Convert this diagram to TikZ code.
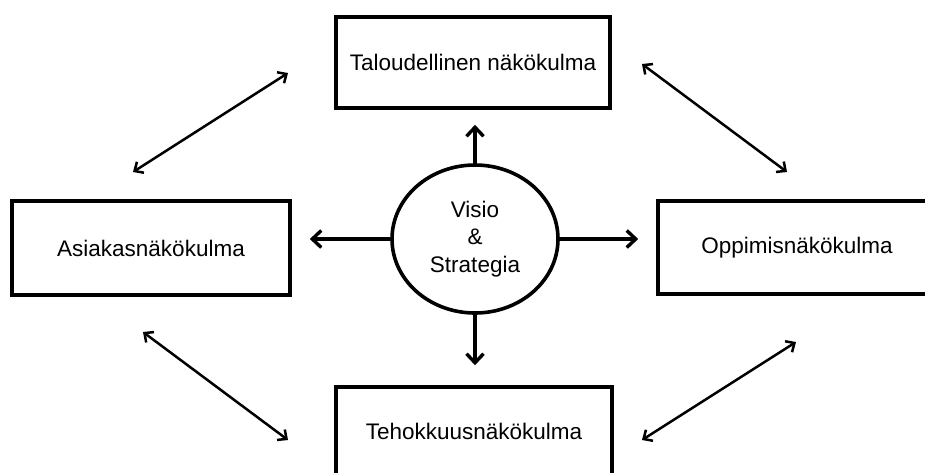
\documentclass[tikz,border=0pt]{standalone}
\usepackage{fontspec}
\setmainfont{Liberation Sans}
\usetikzlibrary{arrows.meta,shapes.geometric}
\begin{document}
\begin{tikzpicture}[x=1pt,y=-1pt,
  every node/.style={font=\fontsize{22.5}{27.5}\selectfont, inner sep=0pt, align=center},
  perspbox/.style={draw=black, line width=3.6pt, fill=white, rectangle},
  hub/.style={draw=black, line width=3.6pt, fill=white, ellipse, minimum width=166pt, minimum height=148pt},
  hubarrow/.style={line width=3.4pt, -{Straight Barb[length=9pt,width=17pt,line width=3.4pt]}},
  linkarrow/.style={line width=2.5pt, {Straight Barb[length=7pt,width=13pt,line width=2.5pt]}-{Straight Barb[length=7pt,width=13pt,line width=2.5pt]}}]
\useasboundingbox (0,0) rectangle (925,472);
\fill[white] (0,0) rectangle (925,472);
\begin{scope}
\clip (0,0) rectangle (925,472);
\node[perspbox, minimum width=274pt, minimum height=91pt] (top) at (473,62.5) {Taloudellinen näkökulma};
\node[perspbox, minimum width=278pt, minimum height=94pt] (left) at (151,248) {Asiakasnäkökulma};
\node[perspbox, minimum width=278pt, minimum height=93pt] (right) at (797,247.5) {Oppimisnäkökulma};
\node[perspbox, minimum width=276pt, minimum height=88pt] (bottom) at (474,431) {Tehokkuusnäkökulma};
\node[hub] (hub) at (475,239) {Visio\\\&\\Strategia};
\end{scope}
\draw[hubarrow, shorten >=15pt] (hub.north) -- (hub.north |- top.south);
\draw[hubarrow, shorten >=18pt] (hub.west) -- (hub.west -| left.east);
\draw[hubarrow, shorten >=18pt] (hub.east) -- (hub.east -| right.west);
\draw[hubarrow, shorten >=20pt] (hub.south) -- (hub.south |- bottom.north);
\coordinate (nwA) at (288,73);
\coordinate (nwB) at (133,172);
\coordinate (neA) at (642,64);
\coordinate (neB) at (787,172);
\coordinate (swA) at (143,332);
\coordinate (swB) at (288,440);
\coordinate (seA) at (642,440);
\coordinate (seB) at (796,342);
\draw[linkarrow] (nwB) -- (nwA);
\draw[linkarrow] (neA) -- (neB);
\draw[linkarrow] (swA) -- (swB);
\draw[linkarrow] (seA) -- (seB);
\end{tikzpicture}
\end{document}
